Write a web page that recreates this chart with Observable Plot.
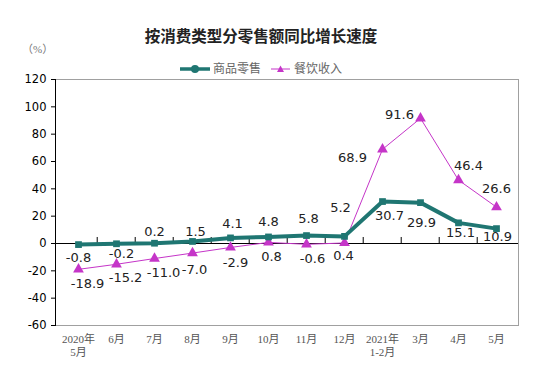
<!DOCTYPE html>
<html><head><meta charset="utf-8">
<script src="https://cdn.jsdelivr.net/npm/d3@7"></script>
<script src="https://cdn.jsdelivr.net/npm/@observablehq/plot@0.6"></script>
<style>
body{margin:0;background:#fff;}
#wrap{position:relative;width:535px;height:370px;overflow:hidden;background:#fff;}
#title{position:absolute;left:0;width:522px;top:24px;text-align:center;font-family:"Noto Sans CJK SC",sans-serif;font-weight:bold;font-size:15.5px;color:#222;line-height:22px;}
#unit{position:absolute;left:22px;top:40px;font-family:"Liberation Serif","Noto Sans CJK SC",serif;font-size:11px;color:#777;}
#legend{position:absolute;left:180px;top:60px;font-family:"Liberation Serif","Noto Sans CJK SC",serif;font-size:12px;color:#666;display:flex;align-items:center;line-height:18px;}
#legend span{margin-right:10px;}
#chart{position:absolute;left:0;top:0;}
</style></head>
<body><div id="wrap"><div id="chart"></div><div id="title"></div><div id="unit"></div><div id="legend"></div></div>
<script>
// ---- data ----
const categories = ["2020年\n5月","6月","7月","8月","9月","10月","11月","12月","2021年\n1-2月","3月","4月","5月"];
const retail   = [-0.8, -0.2, 0.2, 1.5, 4.1, 4.8, 5.8, 5.2, 30.7, 29.9, 15.1, 10.9];
const catering = [-18.9, -15.2, -11.0, -7.0, -2.9, 0.8, -0.6, 0.4, 68.9, 91.6, 46.4, 26.6];
const seriesNames = ["商品零售", "餐饮收入"];
const yTicks = [-60, -40, -20, 0, 20, 40, 60, 80, 100, 120];
const titleText = "按消费类型分零售额同比增长速度";
const unitText = "（%）";

// ---- styling / label placement (pixel offsets) ----
const teal = "#1f7672", magenta = "#c535c8";
const retailOffsets = [[0,13],[5,10],[0,-11],[3,-10],[2,-14],[0,-15],[2,-17],[-4,-29],[7,14],[1,20],[2,10],[1,8]];
const cateringOffsets = [[9,14],[9,14],[9,14],[2,17],[5,15],[3,14],[6,15],[-1,13],[-30,8],[-21,-3],[10,-14],[0,-18]];

const rows = categories.map((c, i) => ({cat: c, retail: retail[i], catering: catering[i]}));

document.getElementById("title").textContent = titleText;
document.getElementById("unit").textContent = unitText;

const W = 535, H = 370, mL = 55, mR = 17, mT = 79, mB = 45;
const bw = (W - mL - mR) / categories.length;

const labelMarks = [];
rows.forEach((r, i) => {
  labelMarks.push(Plot.text([r], {x: "cat", y: "retail", text: d => d.retail.toFixed(1), dx: retailOffsets[i][0], dy: retailOffsets[i][1], fontSize: 13, fill: "#222", fontFamily: "DejaVu Sans"}));
  labelMarks.push(Plot.text([r], {x: "cat", y: "catering", text: d => d.catering.toFixed(1), dx: cateringOffsets[i][0], dy: cateringOffsets[i][1], fontSize: 13, fill: "#222", fontFamily: "DejaVu Sans"}));
});

const chart = Plot.plot({
  width: W, height: H,
  marginLeft: mL, marginRight: mR, marginTop: mT, marginBottom: mB,
  style: {fontFamily: "DejaVu Sans", background: "transparent"},
  x: {type: "band", domain: categories, padding: 0},
  y: {domain: [-60, 120], ticks: yTicks},
  marks: [
    Plot.frame({stroke: "#a0a0a0"}),
    Plot.frame({anchor: "left", stroke: "#000"}),
    Plot.ruleY([0], {stroke: "#000", strokeWidth: 1.2}),
    Plot.ruleX(categories.slice(1), {x: d => d, y1: 0, y2: 4.4, dx: -bw / 2, stroke: "#000"}),
    Plot.axisY({ticks: yTicks, tickFormat: d => `${d}`, tickSize: 4, tickPadding: 5, fontSize: 11.5, color: "#000", label: null, fontFamily: "DejaVu Sans"}),
    Plot.axisX({tickSize: 0, tickPadding: 9, fontSize: 11, fill: "#555", label: null, lineHeight: 1.15, fontFamily: "Liberation Serif, Noto Sans CJK SC, serif"}),
    Plot.line(rows, {x: "cat", y: "catering", stroke: magenta, strokeWidth: 1}),
    Plot.dot(rows, {x: "cat", y: "catering", symbol: "triangle", r: 4, fill: magenta}),
    Plot.line(rows, {x: "cat", y: "retail", stroke: teal, strokeWidth: 4}),
    Plot.dot(rows, {x: "cat", y: "retail", symbol: "square", r: 3.8, fill: teal}),
    ...labelMarks
  ]
});
document.getElementById("chart").appendChild(chart);

// legend
const lg = document.getElementById("legend");
lg.innerHTML =
  `<svg width="30" height="10" style="margin-right:3px"><line x1="0" x2="30" y1="5" y2="5" stroke="${teal}" stroke-width="3.5"/><circle cx="15" cy="5" r="4" fill="${teal}"/></svg><span>${seriesNames[0]}</span>` +
  `<svg width="19" height="10" style="margin-right:4px"><line x1="0" x2="19" y1="5" y2="5" stroke="${magenta}" stroke-width="1"/><path d="M9.5,1.5 L13,8 L6,8Z" fill="${magenta}"/></svg><span>${seriesNames[1]}</span>`;
</script></body></html>
